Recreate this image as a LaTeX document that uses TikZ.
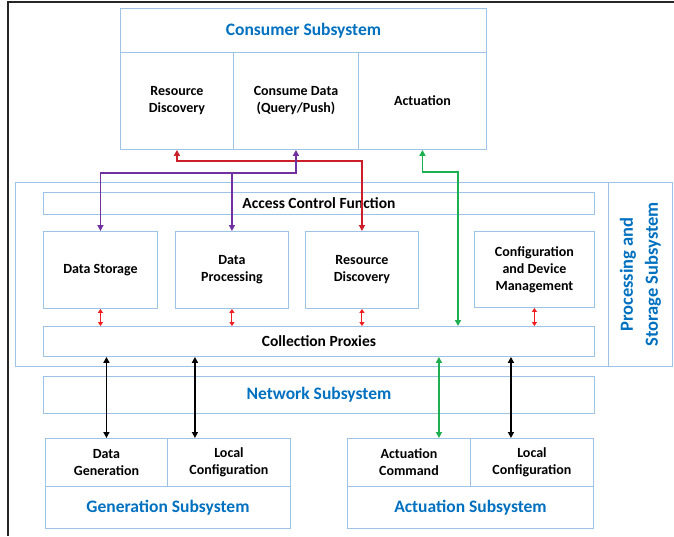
\documentclass[tikz,border=0pt]{standalone}
\usepackage{fontspec}
\setmainfont{Carlito}
\usepackage{tikz}
\usetikzlibrary{arrows.meta, positioning, calc}
\definecolor{boxblue}{RGB}{157,195,230}
\definecolor{titleblue}{RGB}{0,112,192}
\definecolor{linkred}{RGB}{204,30,40}
\definecolor{linkpurple}{RGB}{112,48,160}
\definecolor{linkgreen}{RGB}{30,176,80}
\definecolor{tinyred}{RGB}{240,30,30}
\tikzstyle{box} = [draw=boxblue, line width=0.9pt, anchor=north west, inner sep=0pt, align=center, font=\fontsize{14}{17}\selectfont\bfseries]
\tikzstyle{title} = [box, text=titleblue, font=\fontsize{17.5}{20}\selectfont\bfseries]
\tikzstyle{link} = [line width=1.8pt, {Triangle[length=6pt,width=6pt]}-{Triangle[length=6pt,width=6pt]}]
\tikzstyle{tiny} = [line width=1pt, tinyred, {Triangle[length=4pt,width=5pt]}-{Triangle[length=4pt,width=5pt]}]

\begin{document}
\begin{tikzpicture}[x=1pt, y=-1pt]
\useasboundingbox (0,0) rectangle (674,536);
% frame
\draw [line width=2pt, black!85] (674,2) -- (8,2) -- (8,536);

% consumer subsystem
\node (cons) [title, minimum width=366pt, minimum height=44pt] at (120,8) {Consumer Subsystem};
\node (cRD) [box, minimum width=113pt, minimum height=97pt] at (120,52) {Resource\\Discovery};
\node (cCD) [box, minimum width=125pt, minimum height=97pt] at (233,52) {Consume Data\\(Query/Push)};
\node (cAct) [box, minimum width=128pt, minimum height=97pt] at (358,52) {Actuation};

% processing and storage subsystem
\node (pOut) [box, minimum width=593pt, minimum height=184pt] at (15,182) {};
\node (pSide) [title, minimum width=64pt, minimum height=184pt] at (608,182) {};
\node [text=titleblue, rotate=90, align=center, font=\fontsize{18.5}{25}\selectfont\bfseries] at (pSide.center) {Processing and\\Storage Subsystem};
\node (acf) [box, minimum width=551pt, minimum height=22pt, font=\fontsize{15.5}{18}\selectfont\bfseries] at (43,192) {Access Control Function};
\node (pDS) [box, minimum width=114pt, minimum height=77pt] at (43,231) {Data Storage};
\node (pDP) [box, minimum width=113pt, minimum height=77pt] at (175,231) {Data\\Processing};
\node (pRD) [box, minimum width=113pt, minimum height=77pt] at (305,231) {Resource\\Discovery};
\node (pCfg) [box, minimum width=120pt, minimum height=76pt] at (474,231) {Configuration\\and Device\\Management};
\node (proxies) [box, minimum width=551pt, minimum height=30pt, font=\fontsize{15.5}{18}\selectfont\bfseries] at (43,326) {Collection Proxies};

% network subsystem
\node (net) [title, minimum width=551pt, minimum height=37pt] at (43,376) {Network Subsystem};

% generation subsystem
\node (gDG) [box, minimum width=122pt, minimum height=48pt] at (45,438) {Data\\Generation};
\node (gLC) [box, minimum width=123pt, minimum height=48pt] at (167,438) {Local\\Configuration};
\node (gen) [title, minimum width=245pt, minimum height=42pt] at (45,486) {Generation Subsystem};

% actuation subsystem
\node (aAC) [box, minimum width=123pt, minimum height=48pt] at (347,438) {Actuation\\Command};
\node (aLC) [box, minimum width=123pt, minimum height=48pt] at (470,438) {Local\\Configuration};
\node (act) [title, minimum width=246pt, minimum height=42pt] at (347,486) {Actuation Subsystem};

\coordinate (greenx) at (458,0);
\coordinate (gLCin) at ([xshift=-34pt]gLC.north);
\coordinate (aACin) at ([xshift=30pt]aAC.north);
\coordinate (aLCin) at ([xshift=-21pt]aLC.north);

% consumer links
\draw [link, linkred] (cRD.south) -- ++(0,11) -| (pRD.north);
\draw [link, linkpurple] (cCD.south) -- ++(0,23) coordinate (pj) -| (pDS.north);
\draw [link, linkpurple, {Triangle[length=6pt,width=6pt]}-] (pDP.north) -- (pDP.north |- pj);
\draw [link, linkgreen] (cAct.south) -- ++(0,22) -| (proxies.north -| greenx);

% inner links
\foreach \n in {pDS, pDP, pRD, pCfg}
  \draw [tiny] (\n.south) -- (proxies.north -| \n.south);

% device links
\draw [link, black] (proxies.south -| gDG.north) -- (gDG.north);
\draw [link, black] (proxies.south -| gLCin) -- (gLCin);
\draw [link, linkgreen] (proxies.south -| aACin) -- (aACin);
\draw [link, black] (proxies.south -| aLCin) -- (aLCin);
\end{tikzpicture}
\end{document}
